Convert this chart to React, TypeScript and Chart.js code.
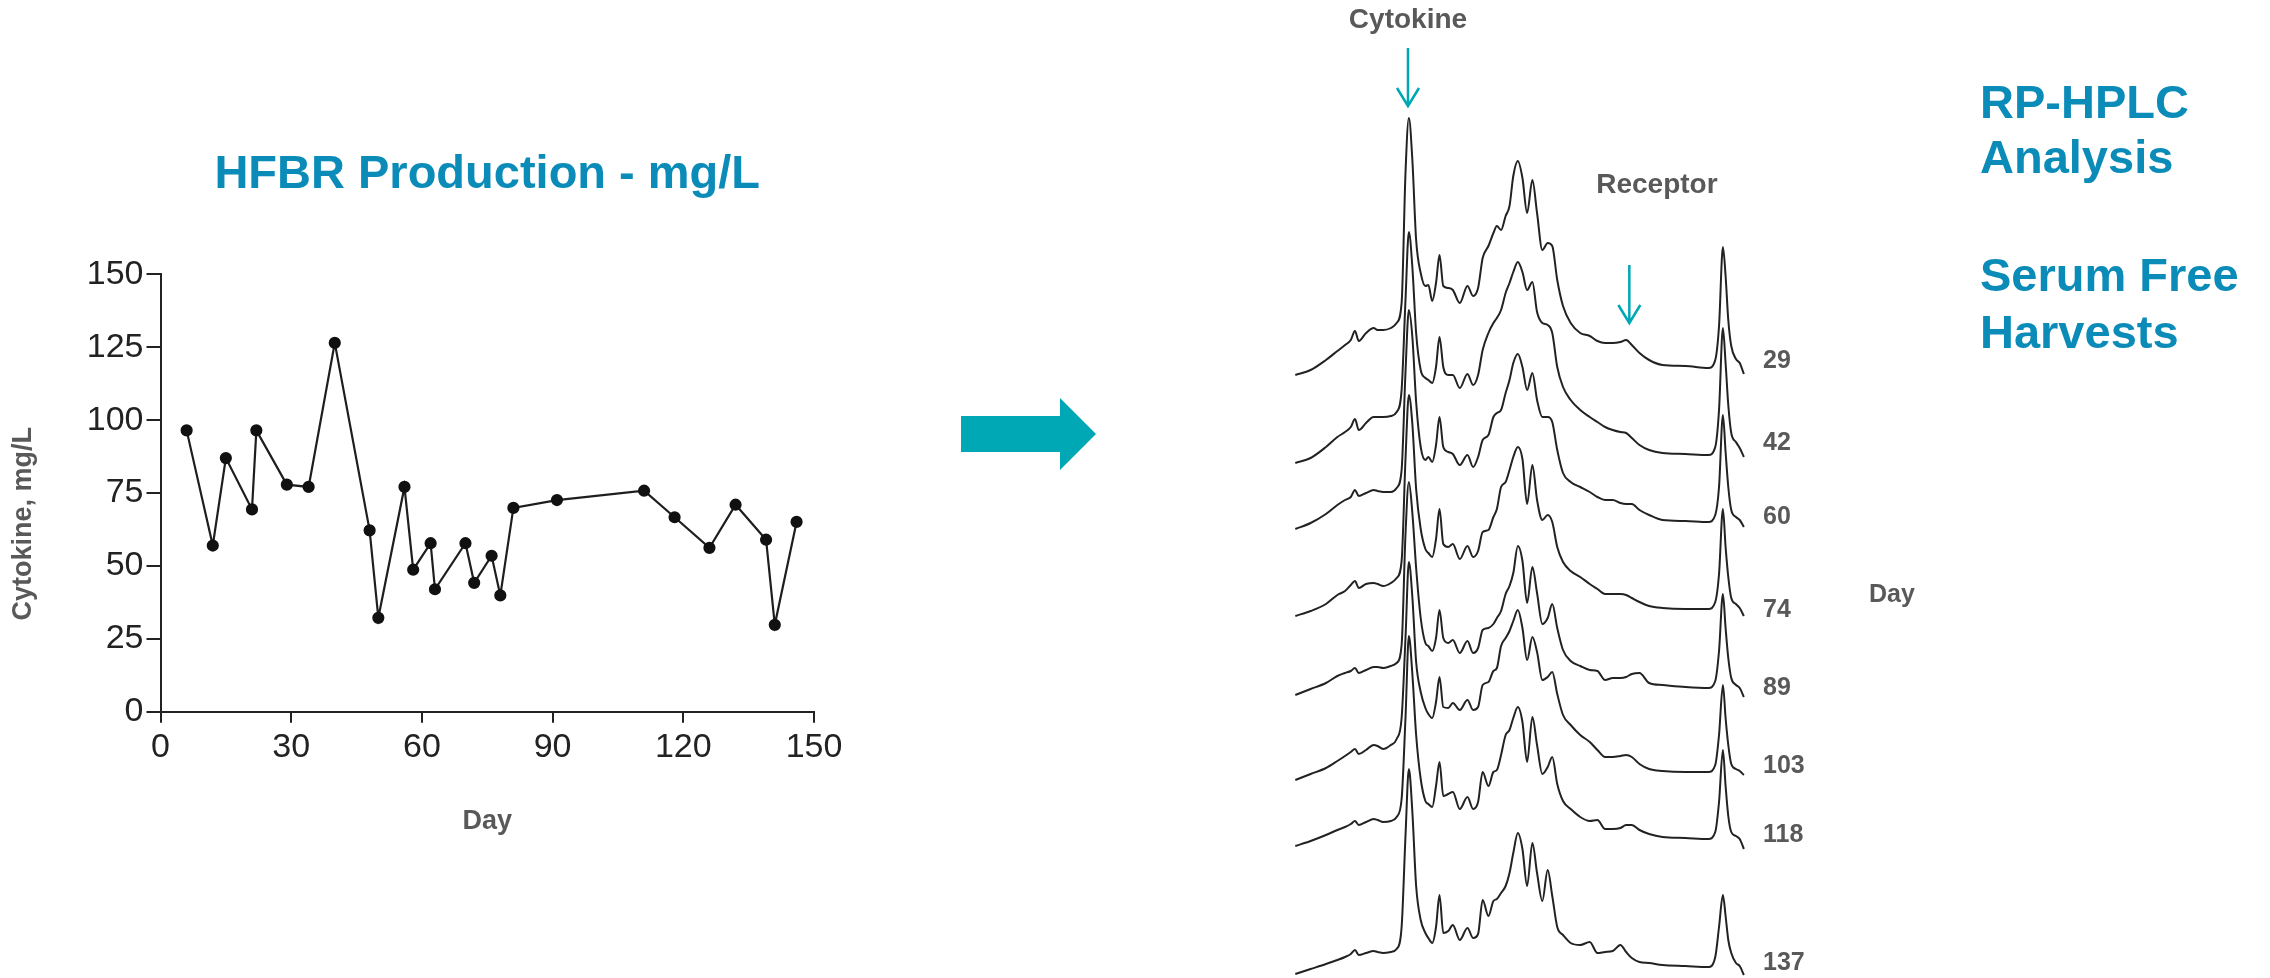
import React, { useEffect, useRef } from 'react';
import { Chart, registerables } from 'chart.js';

Chart.register(...registerables);

const FONT = '"Liberation Sans", Arial, Helvetica, sans-serif';
const TITLE_BLUE = '#0A8BB8';
const TEAL = '#00A7B4';
const LABEL_GREY = '#595959';

// ---------------- Left chart: HFBR production ----------------
const productionDays = [6, 12, 15, 21, 22, 29, 34, 40, 48, 50, 56, 58, 62, 63, 70, 72, 76, 78, 81, 91, 111, 118, 126, 132, 139, 141, 146];
const cytokineMgL = [96.5, 57, 87, 69.4, 96.5, 77.9, 77.1, 126.5, 62.2, 32.2, 77.1, 48.7, 57.8, 42, 57.8, 44.2, 53.5, 39.9, 69.9, 72.6, 75.8, 66.7, 56.2, 71, 59, 29.8, 65.1];
const dayTicks = [0, 30, 60, 90, 120, 150];
const cytokineTicks = [0, 25, 50, 75, 100, 125, 150];

// ---------------- Right chart: RP-HPLC chromatograms ----------------
const harvestDays = ['29', '42', '60', '74', '89', '103', '118', '137'];
// vertical stacking offset of each chromatogram (signal units)
const traceOffsets = [610, 523, 456, 369, 290, 206, 139, 11];
// level of each harvest-day label (signal units)
const harvestLabelLevels = [617, 535, 461, 368, 290, 212, 143, 15];
// retention time (min)
const retentionTimes = [
  1.54, 3.08, 4.62, 5.77, 6.54, 7.12, 7.54, 7.92, 8.65, 9.42,
  9.81, 10.38, 11.15, 11.73, 12.23, 12.62, 12.96, 13.31, 13.69, 14.15,
  14.62, 14.92, 15.31, 15.69, 16.04, 16.42, 16.92, 17.38, 18.08, 18.85,
  19.42, 19.92, 20.38, 20.96, 21.46, 21.81, 22.23, 22.69, 23.08, 23.46,
  23.92, 24.38, 24.85, 25.38, 25.85, 26.38, 26.92, 27.38, 27.88, 28.46,
  29.23, 30.19, 31.15, 31.92, 32.69, 33.46, 34.23, 34.81, 35.38, 36.15,
  37.12, 38.46, 40.77, 43.08, 43.77, 44.15, 44.54, 44.81, 45.08, 45.38,
  45.85, 46.23, 46.65,
];
const trace29 = [
  -7, -2, 8, 17, 23, 28, 37, 27, 35, 40,
  38, 38, 40, 45, 65, 195, 250, 208, 128, 95,
  82, 83, 67, 85, 113, 82, 80, 78, 65, 82,
  72, 80, 110, 122, 135, 142, 138, 152, 162, 192,
  207, 190, 155, 188, 155, 118, 125, 122, 88, 62,
  45, 35, 32, 27, 25, 25, 26, 28, 23, 15,
  8, 3, 2, 0, 8, 42, 121, 92, 48, 22,
  9, 5, -6,
];
const trace42 = [
  -8, -3, 8, 18, 23, 28, 36, 25, 32, 38,
  38, 38, 39, 43, 65, 155, 223, 188, 122, 85,
  77, 75, 72, 88, 118, 88, 80, 80, 67, 81,
  70, 80, 105, 122, 132, 137, 145, 162, 172, 183,
  193, 183, 165, 173, 143, 132, 130, 122, 88, 68,
  55, 45, 38, 33, 28, 25, 23, 22, 17, 10,
  5, 2, 1, 0, 8, 45, 127, 92, 50, 22,
  13, 7, -2,
];
const trace60 = [
  -7, -1, 8, 17, 22, 25, 32, 26, 29, 32,
  31, 30, 30, 34, 52, 150, 212, 185, 120, 75,
  62, 65, 60, 77, 105, 75, 70, 68, 57, 67,
  55, 65, 82, 87, 105, 109, 112, 129, 142, 159,
  168, 155, 132, 149, 122, 105, 105, 100, 72, 49,
  40, 35, 30, 25, 22, 22, 19, 18, 18, 12,
  7, 2, 1, 0, 7, 35, 107, 70, 35, 12,
  5, 2, -5,
];
const trace74 = [
  -7, -2, 5, 14, 18, 24, 28, 21, 25, 26,
  25, 23, 26, 31, 48, 150, 214, 185, 120, 80,
  60, 56, 52, 70, 100, 65, 62, 65, 50, 63,
  52, 58, 77, 79, 92, 100, 122, 127, 139, 152,
  162, 150, 105, 144, 109, 89, 94, 87, 62, 47,
  38, 32, 25, 20, 15, 15, 15, 14, 11, 7,
  3, 1, 0, 0, 7, 35, 100, 62, 32, 11,
  5, 1, -7,
];
const trace89 = [
  -7, -1, 5, 12, 15, 17, 20, 15, 18, 21,
  21, 20, 22, 25, 43, 154, 206, 175, 120, 70,
  45, 42, 37, 50, 78, 50, 45, 48, 35, 47,
  35, 40, 58, 60, 64, 70, 77, 94, 102, 115,
  142, 127, 85, 121, 95, 64, 70, 84, 60, 38,
  27, 22, 18, 17, 8, 10, 10, 11, 14, 15,
  5, 3, 1, 0, 7, 37, 94, 60, 30, 10,
  3, 0, -9,
];
const trace103 = [
  -8, -2, 4, 11, 16, 20, 23, 18, 22, 27,
  26, 23, 27, 33, 54, 134, 210, 175, 110, 80,
  64, 58, 54, 70, 95, 65, 64, 69, 62, 72,
  62, 65, 87, 90, 101, 104, 126, 134, 141, 151,
  162, 144, 112, 135, 120, 92, 95, 100, 78, 57,
  47, 37, 30, 22, 15, 15, 16, 17, 15, 8,
  3, 1, 0, 0, 7, 37, 87, 54, 27, 8,
  3, 1, -3,
];
const trace118 = [
  -7, -2, 4, 9, 12, 15, 18, 14, 17, 20,
  19, 17, 18, 22, 40, 121, 203, 165, 104, 60,
  38, 35, 32, 53, 77, 43, 45, 47, 30, 42,
  30, 37, 67, 53, 67, 69, 84, 104, 109, 121,
  132, 117, 77, 122, 94, 65, 72, 82, 55, 38,
  30, 22, 18, 19, 10, 10, 11, 14, 14, 9,
  5, 2, 1, 0, 7, 37, 89, 53, 23, 7,
  3, 0, -10,
];
const trace137 = [
  -7, -2, 3, 7, 10, 13, 17, 12, 14, 16,
  15, 14, 15, 18, 40, 131, 198, 155, 81, 47,
  34, 29, 24, 40, 72, 34, 36, 42, 27, 39,
  29, 33, 67, 51, 66, 68, 74, 81, 94, 114,
  134, 118, 81, 124, 94, 66, 97, 71, 40, 32,
  24, 22, 25, 14, 15, 16, 22, 15, 9, 5,
  4, 2, 1, 0, 10, 40, 72, 51, 27, 14,
  4, 1, -8,
];
const traces = [trace29, trace42, trace60, trace74, trace89, trace103, trace118, trace137];

// peak markers (retention time, signal level of arrow top / tip, label level)
const peakMarkers = [
  { label: 'Cytokine', time: 12.87, arrowTop: 930, arrowTip: 872, labelTime: 12.87, labelLevel: 958 },
  { label: 'Receptor', time: 35.13, arrowTop: 713, arrowTip: 655, labelTime: 37.9, labelLevel: 793 },
];

const cytokineAxisTitle = {
  id: 'cytokineAxisTitle',
  afterDraw(chart: any) {
    const { ctx, chartArea } = chart;
    ctx.save();
    ctx.translate(24, chartArea.bottom - 188);
    ctx.rotate(-Math.PI / 2);
    ctx.font = `bold 27px ${FONT}`;
    ctx.fillStyle = LABEL_GREY;
    ctx.textAlign = 'center';
    ctx.textBaseline = 'middle';
    ctx.fillText('Cytokine, mg/L', 0, 0);
    ctx.restore();
  },
};

const hplcAnnotations = {
  id: 'hplcAnnotations',
  afterDatasetsDraw(chart: any) {
    const { ctx, chartArea, scales } = chart;
    const x = scales.x;
    const y = scales.y;
    ctx.save();
    // harvest-day labels
    ctx.font = `bold 25px ${FONT}`;
    ctx.fillStyle = LABEL_GREY;
    ctx.textAlign = 'left';
    ctx.textBaseline = 'middle';
    harvestDays.forEach((d, i) => {
      ctx.fillText(d, chartArea.right + 3, y.getPixelForValue(harvestLabelLevels[i]));
    });
    // stack axis label
    ctx.textAlign = 'center';
    ctx.fillText('Day', chartArea.right + 132, y.getPixelForValue(383));
    // peak markers
    peakMarkers.forEach((m) => {
      const px = x.getPixelForValue(m.time);
      const top = y.getPixelForValue(m.arrowTop);
      const tip = y.getPixelForValue(m.arrowTip);
      ctx.strokeStyle = TEAL;
      ctx.lineWidth = 2.5;
      ctx.lineCap = 'butt';
      ctx.beginPath();
      ctx.moveTo(px, top);
      ctx.lineTo(px, tip);
      ctx.moveTo(px - 11, tip - 18);
      ctx.lineTo(px, tip);
      ctx.lineTo(px + 11, tip - 18);
      ctx.stroke();
      ctx.font = `bold 28px ${FONT}`;
      ctx.fillStyle = LABEL_GREY;
      ctx.textAlign = 'center';
      ctx.textBaseline = 'middle';
      ctx.fillText(m.label, x.getPixelForValue(m.labelTime), y.getPixelForValue(m.labelLevel));
    });
    ctx.restore();
  },
};

function ProductionChart() {
  const ref = useRef<HTMLCanvasElement>(null);
  useEffect(() => {
    const axisColor = '#222';
    const chart = new Chart(ref.current as HTMLCanvasElement, {
      type: 'line',
      data: {
        datasets: [
          {
            label: 'Cytokine, mg/L',
            data: productionDays.map((d, i) => ({ x: d, y: cytokineMgL[i] })),
            borderColor: '#1e1e1e',
            borderWidth: 2.2,
            pointRadius: 5,
            pointBackgroundColor: '#111',
            pointBorderColor: '#111',
            tension: 0,
          },
        ],
      },
      options: {
        animation: false,
        responsive: false,
        maintainAspectRatio: false,
        layout: { padding: { left: 0, right: 86, top: 0, bottom: 0 } },
        plugins: {
          legend: { display: false },
          tooltip: { enabled: false },
          title: {
            display: true,
            text: 'HFBR Production - mg/L',
            fullSize: false,
            color: TITLE_BLUE,
            font: { family: FONT, size: 47, weight: 'bold' },
            padding: { top: 27, bottom: 71 },
          },
        },
        scales: {
          x: {
            type: 'linear',
            min: dayTicks[0],
            max: dayTicks[dayTicks.length - 1],
            afterBuildTicks: (s: any) => { s.ticks = dayTicks.map((v) => ({ value: v })); },
            ticks: { color: '#222', font: { family: FONT, size: 34 }, padding: 5, maxRotation: 0, autoSkip: false },
            grid: { drawOnChartArea: false, drawTicks: true, tickLength: 11, color: axisColor, tickColor: axisColor, tickWidth: 2, lineWidth: 2 },
            border: { display: true, color: axisColor, width: 2 },
            title: {
              display: true,
              text: 'Day',
              color: LABEL_GREY,
              font: { family: FONT, size: 27, weight: 'bold' },
              padding: { top: 0, bottom: 22 },
            },
            afterFit: (s: any) => { s.height = 148.3; },
          },
          y: {
            type: 'linear',
            min: cytokineTicks[0],
            max: cytokineTicks[cytokineTicks.length - 1],
            afterBuildTicks: (s: any) => { s.ticks = cytokineTicks.map((v) => ({ value: v })); },
            ticks: { color: '#222', font: { family: FONT, size: 34 }, padding: 3, autoSkip: false },
            grid: { drawOnChartArea: false, drawTicks: true, tickLength: 14, color: axisColor, tickColor: axisColor, tickWidth: 2, lineWidth: 2 },
            border: { display: true, color: axisColor, width: 2 },
            afterFit: (s: any) => { s.width = 160.5; },
          },
        },
      } as any,
      plugins: [cytokineAxisTitle],
    });
    return () => chart.destroy();
  }, []);
  return (
    <canvas
      ref={ref}
      width={900}
      height={740}
      style={{ position: 'absolute', left: 0, top: 120, width: 900, height: 740 }}
    />
  );
}

function HplcChart() {
  const ref = useRef<HTMLCanvasElement>(null);
  useEffect(() => {
    const chart = new Chart(ref.current as HTMLCanvasElement, {
      type: 'line',
      data: {
        datasets: traces.map((tr, k) => ({
          label: `Day ${harvestDays[k]}`,
          data: retentionTimes.map((t, i) => ({ x: t, y: traceOffsets[k] + tr[i] })),
          borderColor: '#222222',
          borderWidth: 2,
          pointRadius: 0,
          cubicInterpolationMode: 'monotone',
          fill: false,
          clip: false,
        })),
      },
      options: {
        animation: false,
        responsive: false,
        maintainAspectRatio: false,
        layout: { padding: { left: 0, right: 200, top: 0, bottom: 0 } },
        plugins: { legend: { display: false }, tooltip: { enabled: false }, title: { display: false } },
        scales: {
          x: { type: 'linear', display: false, min: 0, max: 48.27 },
          y: { type: 'linear', display: false, min: 0, max: 978 },
        },
      } as any,
      plugins: [hplcAnnotations],
    });
    return () => chart.destroy();
  }, []);
  return (
    <canvas
      ref={ref}
      width={680}
      height={978}
      style={{ position: 'absolute', left: 1280, top: 0, width: 680, height: 978 }}
    />
  );
}

export default function App() {
  useEffect(() => {
    document.body.style.margin = '0';
    document.body.style.overflow = 'hidden';
  }, []);
  const textStyle = { fontFamily: FONT, fontWeight: 700, fontSize: 47, fill: TITLE_BLUE } as const;
  return (
    <div style={{ position: 'absolute', left: 0, top: 0, width: 2270, height: 978, background: '#fff', overflow: 'hidden' }}>
      <ProductionChart />
      <svg width={2270} height={978} style={{ position: 'absolute', left: 0, top: 0, pointerEvents: 'none' }}>
        <polygon points="961,416 1060,416 1060,398 1096,434 1060,470 1060,452 961,452" fill={TEAL} />
        <text x={1980} y={118} style={textStyle}>RP-HPLC</text>
        <text x={1980} y={173} style={textStyle}>Analysis</text>
        <text x={1980} y={291} style={textStyle}>Serum Free</text>
        <text x={1980} y={348} style={textStyle}>Harvests</text>
      </svg>
      <HplcChart />
    </div>
  );
}
